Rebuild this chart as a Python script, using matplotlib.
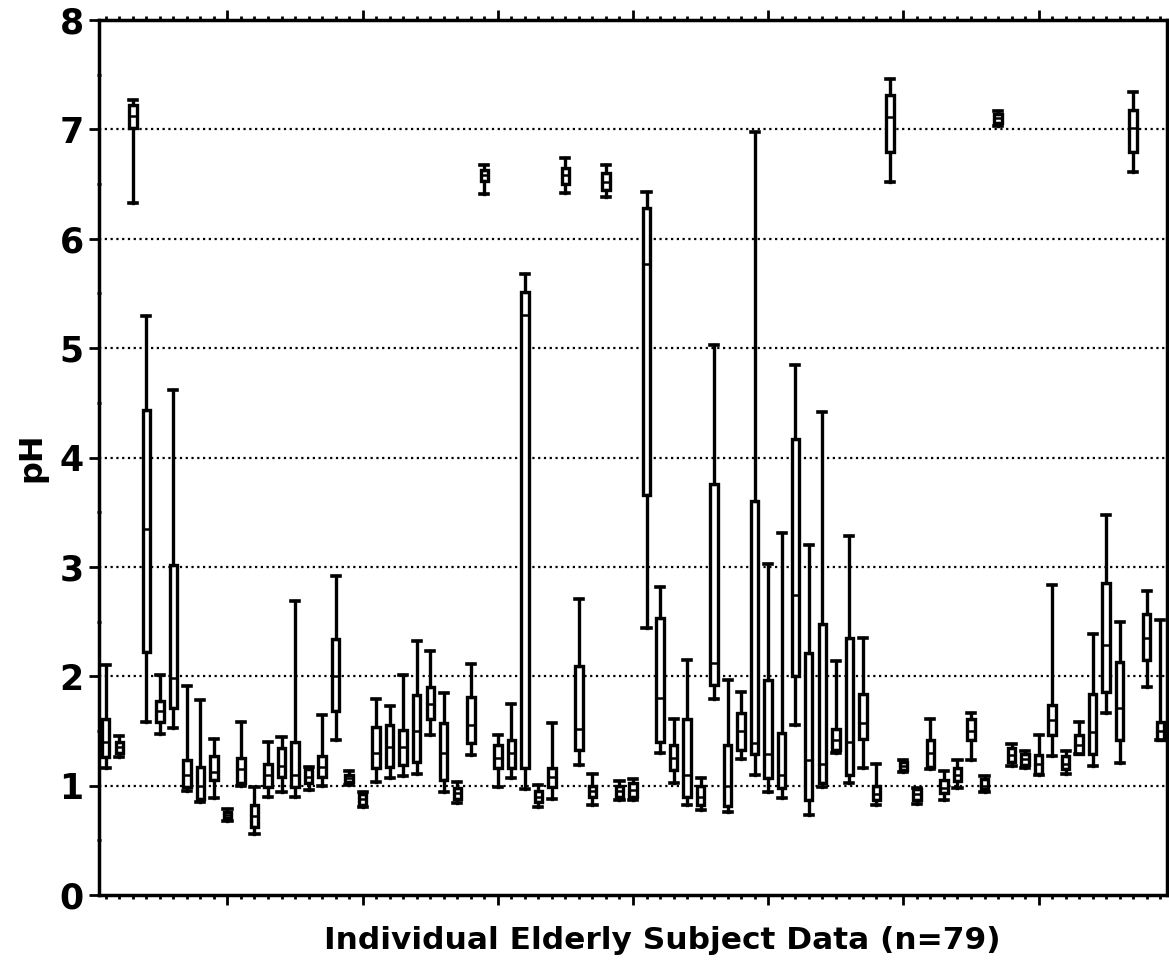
import numpy as np
import matplotlib
matplotlib.use("Agg")
import matplotlib.pyplot as plt
from matplotlib.ticker import MultipleLocator

# per-subject pH summaries (whisker low, Q1, median, Q3, whisker high)
whisk_lo = [1.16, 1.26, 6.33, 1.58, 1.47, 1.53, 0.95, 0.85, 0.89, 0.68,
            1.00, 0.56, 0.90, 0.94, 0.90, 0.96, 1.00, 1.42, 1.01, 0.80,
            1.03, 1.07, 1.09, 1.11, 1.46, 0.94, 0.84, 1.28, 6.41, 0.99,
            1.07, 0.97, 0.80, 0.88, 6.42, 1.19, 0.82, 6.38, 0.87, 0.87,
            2.44, 1.30, 1.02, 0.82, 0.78, 1.79, 0.76, 1.24, 1.10, 0.94,
            0.89, 1.55, 0.73, 0.99, 1.30, 1.02, 1.16, 0.82, 6.52, 1.12,
            0.83, 1.15, 0.87, 0.98, 1.23, 0.94, 7.03, 1.18, 1.16, 1.10,
            1.27, 1.11, 1.29, 1.18, 1.66, 1.21, 6.61, 1.90, 1.42]
q1 = [1.26, 1.30, 7.01, 2.22, 1.58, 1.71, 0.99, 0.88, 1.05, 0.70,
      1.02, 0.62, 0.99, 1.08, 0.99, 1.02, 1.08, 1.68, 1.03, 0.82,
      1.16, 1.17, 1.19, 1.22, 1.61, 1.05, 0.88, 1.39, 6.53, 1.16,
      1.16, 1.16, 0.85, 0.99, 6.50, 1.33, 0.90, 6.45, 0.90, 0.90,
      3.66, 1.40, 1.14, 0.90, 0.82, 1.92, 0.81, 1.33, 1.29, 1.07,
      0.98, 2.00, 0.87, 1.02, 1.33, 1.10, 1.43, 0.87, 6.79, 1.14,
      0.87, 1.17, 0.93, 1.04, 1.42, 0.97, 7.06, 1.22, 1.19, 1.11,
      1.46, 1.15, 1.29, 1.29, 1.86, 1.42, 6.79, 2.15, 1.42]
med = [1.40, 1.35, 7.12, 3.35, 1.68, 1.98, 1.10, 1.00, 1.12, 0.73,
       1.15, 0.72, 1.10, 1.18, 1.10, 1.08, 1.17, 2.00, 1.07, 0.88,
       1.30, 1.35, 1.35, 1.50, 1.75, 1.30, 0.93, 1.55, 6.58, 1.25,
       1.30, 5.30, 0.90, 1.08, 6.58, 1.52, 0.95, 6.52, 0.95, 0.96,
       5.77, 1.80, 1.25, 1.10, 0.90, 2.12, 1.00, 1.50, 1.39, 1.29,
       1.10, 2.74, 1.23, 1.20, 1.42, 1.40, 1.57, 0.92, 7.11, 1.18,
       0.92, 1.30, 0.98, 1.10, 1.50, 1.00, 7.10, 1.28, 1.24, 1.20,
       1.60, 1.20, 1.37, 1.49, 2.29, 1.71, 7.01, 2.35, 1.50]
q3 = [1.61, 1.40, 7.22, 4.43, 1.77, 3.02, 1.23, 1.17, 1.27, 0.76,
      1.25, 0.82, 1.20, 1.34, 1.40, 1.15, 1.27, 2.34, 1.10, 0.92,
      1.54, 1.55, 1.51, 1.83, 1.90, 1.57, 0.98, 1.81, 6.63, 1.37,
      1.42, 5.51, 0.95, 1.16, 6.65, 2.09, 1.00, 6.60, 1.00, 1.02,
      6.28, 2.53, 1.37, 1.61, 1.00, 3.76, 1.37, 1.66, 3.60, 1.97,
      1.48, 4.17, 2.21, 2.48, 1.52, 2.35, 1.84, 1.00, 7.31, 1.22,
      0.97, 1.42, 1.05, 1.16, 1.61, 1.06, 7.14, 1.34, 1.29, 1.28,
      1.74, 1.27, 1.46, 1.84, 2.85, 2.13, 7.18, 2.57, 1.58]
whisk_hi = [2.10, 1.45, 7.27, 5.29, 2.01, 4.62, 1.91, 1.78, 1.43, 0.79,
            1.58, 0.99, 1.40, 1.44, 2.69, 1.17, 1.65, 2.92, 1.13, 0.94,
            1.79, 1.73, 2.01, 2.32, 2.23, 1.85, 1.03, 2.11, 6.67, 1.46,
            1.75, 5.68, 1.01, 1.57, 6.74, 2.71, 1.11, 6.67, 1.04, 1.06,
            6.43, 2.82, 1.61, 2.15, 1.07, 5.03, 1.97, 1.86, 6.98, 3.03,
            3.31, 4.85, 3.20, 4.42, 2.14, 3.28, 2.35, 1.20, 7.46, 1.23,
            0.98, 1.61, 1.13, 1.23, 1.66, 1.09, 7.17, 1.38, 1.32, 1.46,
            2.83, 1.32, 1.58, 2.39, 3.47, 2.50, 7.34, 2.78, 2.51]

subjects = np.arange(1, len(med) + 1)

stats = []
for i in range(len(med)):
    stats.append({"whislo": whisk_lo[i], "q1": q1[i], "med": med[i],
                  "q3": q3[i], "whishi": whisk_hi[i], "fliers": []})

fig = plt.figure(figsize=(11.69, 9.76), dpi=100)
ax = fig.add_axes([0.0847, 0.083, 0.9136, 0.8965])

ax.bxp(stats, positions=subjects, widths=0.55, capwidths=0.6,
       showfliers=False, patch_artist=True,
       boxprops=dict(facecolor="white", edgecolor="black", linewidth=2.4),
       whiskerprops=dict(color="black", linewidth=2.4),
       capprops=dict(color="black", linewidth=2.6),
       medianprops=dict(color="black", linewidth=1.8),
       zorder=3)

ax.set_xlim(0.5, 79.5)
ax.set_ylim(0, 8)

for y in range(1, 8):
    ax.axhline(y, color="black", linewidth=1.6, linestyle=(0, (1, 1.6)), zorder=1)

ax.xaxis.set_major_locator(MultipleLocator(10))
ax.xaxis.set_minor_locator(MultipleLocator(1))
ax.yaxis.set_major_locator(MultipleLocator(1))
ax.yaxis.set_minor_locator(MultipleLocator(0.5))
ax.tick_params(axis="x", which="both", top=True, bottom=True,
               labelbottom=False, direction="out")
ax.tick_params(axis="x", which="major", length=7, width=2)
ax.tick_params(axis="x", which="minor", length=3, width=2)
ax.tick_params(axis="y", which="major", length=7, width=2, direction="out",
               labelsize=25, pad=4)
ax.tick_params(axis="y", which="minor", length=3, width=2, direction="inout")
for lab in ax.get_yticklabels():
    lab.set_fontweight("bold")

for sp in ax.spines.values():
    sp.set_linewidth(2.5)

ax.set_ylabel("pH", fontsize=23, fontweight="bold", labelpad=9)
ax.set_xlabel("Individual Elderly Subject Data (n=79)", fontsize=22.5,
              fontweight="bold", labelpad=16)
ax.xaxis.set_label_coords(0.527, -0.035, transform=ax.transAxes)
ax.xaxis.label.set_va("top")

fig.savefig("out.png", dpi=100)
